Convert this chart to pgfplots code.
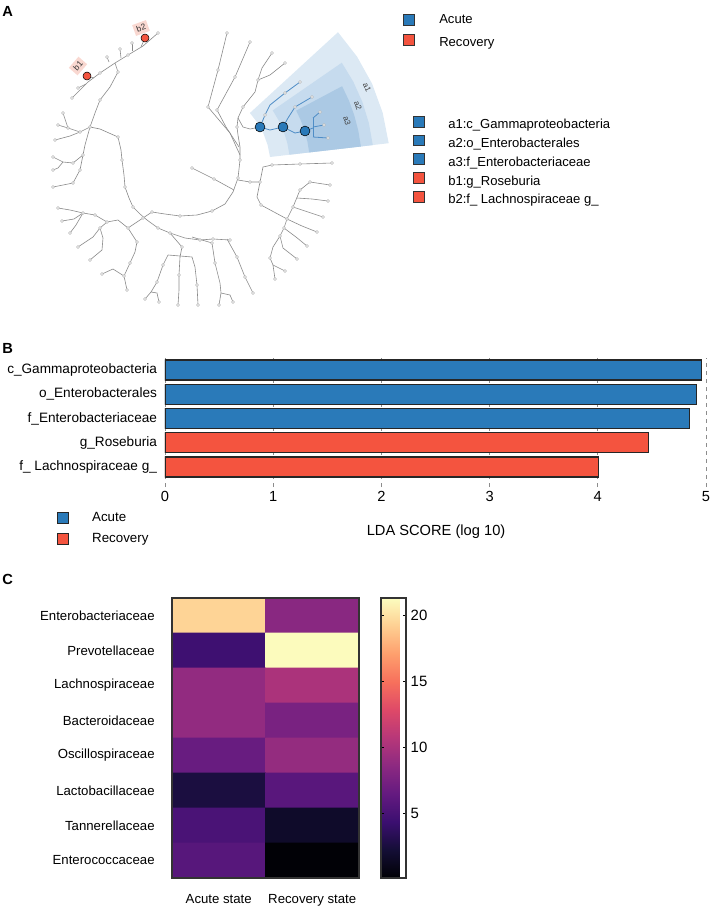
\documentclass[border=0pt]{standalone}
\usepackage{fontspec}
\setmainfont{Liberation Sans}
\usepackage{pgfplots}
\pgfplotsset{compat=1.18}
\definecolor{acute}{HTML}{2A7AB9}
\definecolor{recov}{HTML}{F4543F}
\definecolor{treegray}{HTML}{8A8A8A}
\definecolor{fanA}{HTML}{DCE9F4}
\definecolor{fanB}{HTML}{C6DBEE}
\definecolor{fanC}{HTML}{ABC9E4}
\definecolor{tagpink}{HTML}{F9D8D1}
\definecolor{treeblue}{HTML}{4F8DC6}
\pgfplotsset{
  tree/.style={draw=treegray, line width=0.45pt, mark=none},
  btree/.style={draw=treeblue, line width=0.6pt, mark=none},
}
\begin{document}
\begin{tikzpicture}
\path[use as bounding box] (0,0) rectangle (532.5pt,-681.75pt);
% ---------------- Panel A (cladogram, pixel coordinates) ----------------
\begin{axis}[at={(0pt,0pt)}, anchor=north west, scale only axis,
  width=532.5pt, height=681.75pt, xmin=0, xmax=710, ymin=0, ymax=909,
  y dir=reverse, hide axis, clip=false]
% highlighted sectors
\addplot[fill=fanA, draw=none] coordinates {(388.7,143.2) (382.7,112.8) (372.1,83.7) (357.1,56.7) (338.0,32.2) (249.9,113.0) (257.5,122.7) (263.4,133.4) (267.6,144.9) (270.0,157.0)};
\addplot[fill=fanB, draw=none] coordinates {(372.8,145.1) (368.9,123.2) (362.4,102.0) (353.3,81.7) (341.8,62.7) (272.7,110.4) (278.8,120.6) (283.7,131.5) (287.3,143.0) (289.4,154.7)};
\addplot[fill=fanC, draw=none] coordinates {(360.9,146.5) (358.3,130.8) (354.3,115.4) (348.9,100.5) (342.1,86.2) (296.2,110.6) (300.9,120.6) (304.7,130.9) (307.4,141.6) (309.2,152.4)};
\node[rotate=-66, font=\fontsize{6}{7}\selectfont, inner sep=0pt, text=black!75] at (axis cs:367,87) {a1};
\node[rotate=-70, font=\fontsize{6}{7}\selectfont, inner sep=0pt, text=black!75] at (axis cs:358,106) {a2};
\node[rotate=-73, font=\fontsize{6}{7}\selectfont, inner sep=0pt, text=black!75] at (axis cs:347,121) {a3};
% tree branches
\addplot[tree] coordinates {(158,33) (143,46) (128,55) (115,63) (100,73) (88,82) (80,90) (72,98)};
\addplot[tree] coordinates {(141,47) (145,38)};
\addplot[tree] coordinates {(132,51) (132,43)};
\addplot[tree] coordinates {(121,58) (120,49)};
\addplot[tree] coordinates {(109,62) (107,57)};
\addplot[tree] coordinates {(94,78) (87,76)};
\addplot[tree] coordinates {(86,84) (78,88)};
\addplot[tree] coordinates {(115,63) (118,72) (110,87) (100,100) (95,113) (90,127)};
\addplot[tree] coordinates {(90,127) (85,145) (83,155) (80,170) (73,183) (53,187)};
\addplot[tree] coordinates {(90,127) (80,132) (68,128) (63,113)};
\addplot[tree] coordinates {(68,128) (58,125)};
\addplot[tree] coordinates {(80,132) (70,136) (55,140)};
\addplot[tree] coordinates {(83,155) (73,163) (63,162) (53,157)};
\addplot[tree] coordinates {(63,162) (58,168) (53,170)};
\addplot[tree] coordinates {(90,127) (100,129) (118,137) (121,150) (122,160) (124,175) (125,187) (129,198) (133,207) (140,214) (147,220) (158,228) (170,233) (185,238) (200,240) (213,239) (230,240)};
\addplot[tree] coordinates {(143,218) (128,228) (118,220) (107,222) (95,215) (83,213) (70,210) (58,208)};
\addplot[tree] coordinates {(83,213) (74,219) (62,221)};
\addplot[tree] coordinates {(83,213) (76,225) (70,233)};
\addplot[tree] coordinates {(107,222) (100,228) (103,238) (102,250) (90,260)};
\addplot[tree] coordinates {(100,228) (93,237) (78,247)};
\addplot[tree] coordinates {(128,228) (137,242) (135,252) (130,263) (124,276) (127,290)};
\addplot[tree] coordinates {(124,276) (113,269) (102,274)};
\addplot[tree] coordinates {(170,233) (182,247) (180,257)};
\addplot[tree] coordinates {(168,255) (192,257)};
\addplot[tree] coordinates {(168,255) (163,265) (157,282) (151,292) (145,299)};
\addplot[tree] coordinates {(151,292) (157,293) (159,302)};
\addplot[tree] coordinates {(180,257) (179,275) (179,290) (178,305)};
\addplot[tree] coordinates {(192,257) (195,267) (197,285) (198,305)};
\addplot[tree] coordinates {(192,237) (212,243) (215,263) (220,283) (221,293) (219,305)};
\addplot[tree] coordinates {(221,293) (230,295) (233,302)};
\addplot[tree] coordinates {(227,239) (237,257) (245,277) (253,293)};
\addplot[tree] coordinates {(143,218) (152,212) (165,214) (180,216) (197,215) (212,211) (225,204) (233,192) (238,178) (240,160) (240,147) (238,135) (237,127) (238,118)};
\addplot[tree] coordinates {(192,168) (214,179) (234,190)};
\addplot[tree] coordinates {(238,180) (250,182) (260,182) (263,167) (272,165) (300,164) (332,163)};
\addplot[tree] coordinates {(260,182) (257,197) (261,205) (287,219)};
\addplot[tree] coordinates {(287,219) (293,207) (300,190) (310,182) (330,185)};
\addplot[tree] coordinates {(297,198) (312,199) (328,201)};
\addplot[tree] coordinates {(293,207) (308,212) (323,217)};
\addplot[tree] coordinates {(287,219) (302,226) (317,232)};
\addplot[tree] coordinates {(287,219) (284,228) (280,236)};
\addplot[tree] coordinates {(284,228) (296,237) (307,246)};
\addplot[tree] coordinates {(280,236) (283,248) (297,259)};
\addplot[tree] coordinates {(280,236) (273,247) (270,258) (273,265) (285,271)};
\addplot[tree] coordinates {(273,265) (275,279)};
\addplot[tree] coordinates {(240,155) (230,133) (208,107) (218,70) (227,33)};
\addplot[tree] coordinates {(239,147) (226,127) (217,110) (235,77) (250,42)};
\addplot[tree] coordinates {(238,118) (243,107) (255,92) (258,80) (262,68) (272,53)};
\addplot[tree] coordinates {(258,80) (270,75) (285,63)};
\addplot[tree] coordinates {(238,118) (243,127) (250,129) (260,127)};
% acute subtree
\addplot[btree] coordinates {(260,127) (265,115) (270,105) (285,93) (300,82)};
\addplot[btree] coordinates {(260,127) (270,130) (283,127)};
\addplot[btree] coordinates {(283,127) (288,118) (295,107) (312,97)};
\addplot[btree] coordinates {(283,127) (295,133) (305,131)};
\addplot[btree] coordinates {(305,131) (313,128)};
\addplot[btree] coordinates {(313,118) (313,137)};
\addplot[btree] coordinates {(313,118) (320,112)};
\addplot[btree] coordinates {(313,127) (324,125)};
\addplot[btree] coordinates {(313,137) (328,138)};
% node markers
\addplot[only marks, mark=*, mark size=1.1pt, mark options={draw=gray!55, fill=white, line width=0.35pt}] coordinates {
(158,33) (132,43) (120,49) (107,57) (78,88) (72,98) (63,113) (58,125) (55,140) (53,157) (53,170) (53,187)
(58,208) (62,221) (70,233) (90,260) (78,247) (102,274) (127,290) (145,299) (159,302) (178,305) (198,305)
(219,305) (233,302) (253,293) (275,279) (285,271) (297,259) (307,246) (317,232) (323,217) (328,201)
(330,185) (332,163) (227,33) (250,42) (272,53) (285,63) (192,168)
(300,82) (312,97) (320,112) (324,125) (328,138)
(128,55) (100,73) (118,72) (100,100) (90,127) (80,132) (68,128) (83,155) (73,163) (80,170) (73,183)
(118,137) (122,160) (125,187) (133,207) (143,218) (158,228) (170,233) (200,240) (213,239) (230,240)
(128,228) (107,222) (83,213) (95,215) (100,228) (137,242) (130,263) (124,276) (182,247) (163,265)
(157,282) (179,275) (197,285) (212,243) (215,263) (237,257) (245,277) (152,212) (180,216) (212,211)
(238,178) (240,160) (237,127) (250,182) (260,182) (272,165) (300,164) (261,205) (300,190) (310,182)
(293,207) (287,219) (284,228) (280,236) (270,258) (218,70) (208,107) (235,77) (217,110) (243,107)
(258,80) (214,179) (265,115) (285,93) (295,107)};
% b labels
\node[fill=tagpink, rotate=20, inner sep=2pt, font=\fontsize{6.3}{7}\selectfont, text=black!80] at (axis cs:141,28) {b2};
\node[fill=tagpink, rotate=49, inner sep=2pt, font=\fontsize{6.3}{7}\selectfont, text=black!80] at (axis cs:78,66) {b1};
% significant nodes
\addplot[only marks, mark=*, mark size=3.7pt, mark options={draw=none, fill=acute}] coordinates {(260,127) (283,127) (305,131)};
\addplot[only marks, mark=*, mark size=3pt, mark options={draw=none, fill=recov}] coordinates {(145,38) (87,76)};
% legends of panel A
\addplot[only marks, mark=square*, mark size=4.1pt, mark options={draw=black!80, line width=0.5pt, fill=acute}] coordinates {(408.5,20) (419,121.5) (419,140.3) (419,159.1)};
\addplot[only marks, mark=square*, mark size=4.1pt, mark options={draw=black!80, line width=0.5pt, fill=recov}] coordinates {(408.5,39.5) (419,177.9) (419,196.7)};
\node[anchor=base west, font=\fontsize{9.8}{11}\selectfont, inner sep=0pt] at (axis cs:439,23) {Acute};
\node[anchor=base west, font=\fontsize{9.8}{11}\selectfont, inner sep=0pt] at (axis cs:439,46.5) {Recovery};
\node[anchor=base west, font=\fontsize{9.8}{11}\selectfont, inner sep=0pt] at (axis cs:448,128.3) {a1:c\_Gammaproteobacteria};
\node[anchor=base west, font=\fontsize{9.8}{11}\selectfont, inner sep=0pt] at (axis cs:448,147.2) {a2:o\_Enterobacterales};
\node[anchor=base west, font=\fontsize{9.8}{11}\selectfont, inner sep=0pt] at (axis cs:448,166.1) {a3:f\_Enterobacteriaceae};
\node[anchor=base west, font=\fontsize{9.8}{11}\selectfont, inner sep=0pt] at (axis cs:448,185.0) {b1:g\_Roseburia};
\node[anchor=base west, font=\fontsize{9.8}{11}\selectfont, inner sep=0pt] at (axis cs:448,203.8) {b2:f\_ Lachnospiraceae g\_};
% panel letters
\node[anchor=west, font=\bfseries\fontsize{11}{13}\selectfont, inner sep=0pt] at (axis cs:2,11) {A};
\node[anchor=west, font=\bfseries\fontsize{11}{13}\selectfont, inner sep=0pt] at (axis cs:2,348) {B};
\node[anchor=west, font=\bfseries\fontsize{11}{13}\selectfont, inner sep=0pt] at (axis cs:2,579) {C};
\end{axis}
% ---------------- Panel B (LDA bar chart) ----------------
\begin{axis}[at={(123.75pt,-268.5pt)}, anchor=north west, scale only axis,
  width=405.75pt, height=96.75pt,
  xbar, xmin=0, xmax=5, ymin=-0.825, ymax=4.495,
  ytick={0,1,2,3,4},
  yticklabels={f\_ Lachnospiraceae g\_, g\_Roseburia, f\_Enterobacteriaceae, o\_Enterobacterales, c\_Gammaproteobacteria},
  xtick={0,1,2,3,4,5},
  axis line style={draw=none}, major tick length=0pt,
  xmajorgrids, grid style={dashed, black!45, line width=0.6pt},
  yticklabel style={font=\fontsize{10.2}{12}\selectfont, xshift=-2.5pt},
  xticklabel style={font=\fontsize{11}{13}\selectfont},
  /pgf/number format/assume math mode=true,
  xlabel={LDA SCORE (log 10)},
  xlabel style={font=\fontsize{11}{13}\selectfont, at={(axis description cs:0.501,0)}, anchor=center, yshift=-33.75pt},
  legend style={at={(axis description cs:-0.2,-0.175)}, anchor=north west, draw=none, fill=none,
    font=\fontsize{10}{12}\selectfont, row sep=3.3pt, inner sep=0pt},
  legend cell align=left,
]
\addplot[bar shift=0pt, bar width=0.825, fill=acute, draw=black!85, line width=0.9pt,
  legend image code/.code={\draw[fill=acute, draw=black!85, line width=0.6pt] (0pt,-4.1pt) rectangle (8.25pt,4.1pt); \path[draw=none, fill=none] (0pt,0pt) -- (24pt,0pt);}]
  coordinates {(4.96,4) (4.91,3) (4.85,2)};
\addlegendentry{Acute}
\addplot[bar shift=0pt, bar width=0.825, fill=recov, draw=black!85, line width=0.9pt,
  legend image code/.code={\draw[fill=recov, draw=black!85, line width=0.6pt] (0pt,-4.1pt) rectangle (8.25pt,4.1pt); \path[draw=none, fill=none] (0pt,0pt) -- (24pt,0pt);}]
  coordinates {(4.47,1) (4.01,0)};
\addlegendentry{Recovery}
\end{axis}
% ---------------- Panel C (heatmap) ----------------
\begin{axis}[at={(129pt,-448.5pt)}, anchor=north west, scale only axis,
  width=140.25pt, height=210pt,
  xmin=-0.5, xmax=1.5, ymin=-0.5, ymax=7.5, y dir=reverse, enlargelimits=false,
  xtick={0,1}, xticklabels={Acute state, Recovery state},
  ytick={0,1,2,3,4,5,6,7},
  yticklabels={Enterobacteriaceae, Prevotellaceae, Lachnospiraceae, Bacteroidaceae, Oscillospiraceae, Lactobacillaceae, Tannerellaceae, Enterococcaceae},
  major tick length=0pt,
  yticklabel style={font=\fontsize{9.9}{12}\selectfont, xshift=-9.5pt},
  xticklabel style={font=\fontsize{9.9}{12}\selectfont, yshift=-9pt},
  axis line style={draw=black!80, line width=1.2pt},
  axis on top,
  colormap={magma}{rgb255=(0,0,4) rgb255=(20,14,54) rgb255=(59,15,112) rgb255=(100,26,128) rgb255=(140,41,129) rgb255=(183,55,121) rgb255=(222,73,104) rgb255=(247,112,92) rgb255=(254,159,109) rgb255=(254,207,146) rgb255=(252,253,191)},
  point meta min=0.1, point meta max=21.3,
  colorbar,
  colorbar shift/.style={xshift=16.5pt},
  colorbar style={at={(parent axis.north east)}, anchor=north west, width=18.75pt,
    ytick={5,10,15,20}, major tick length=2.5pt,
    ytick style={draw=black, line width=0.8pt},
    yticklabel style={font=\fontsize{11.2}{13}\selectfont},
    axis line style={draw=black!80, line width=1.2pt},
    /pgf/number format/assume math mode=true},
]
\addplot[matrix plot*, point meta=explicit, mesh/cols=2] table[meta=c] {
x y c
0 0 19.4
1 0 8.4
0 1 4.5
1 1 21.2
0 2 8.9
1 2 10.1
0 3 8.9
1 3 7.6
0 4 6.7
1 4 9.0
0 5 2.6
1 5 5.9
0 6 5.1
1 6 1.7
0 7 5.8
1 7 0.2
};
\end{axis}
\end{tikzpicture}
\end{document}
